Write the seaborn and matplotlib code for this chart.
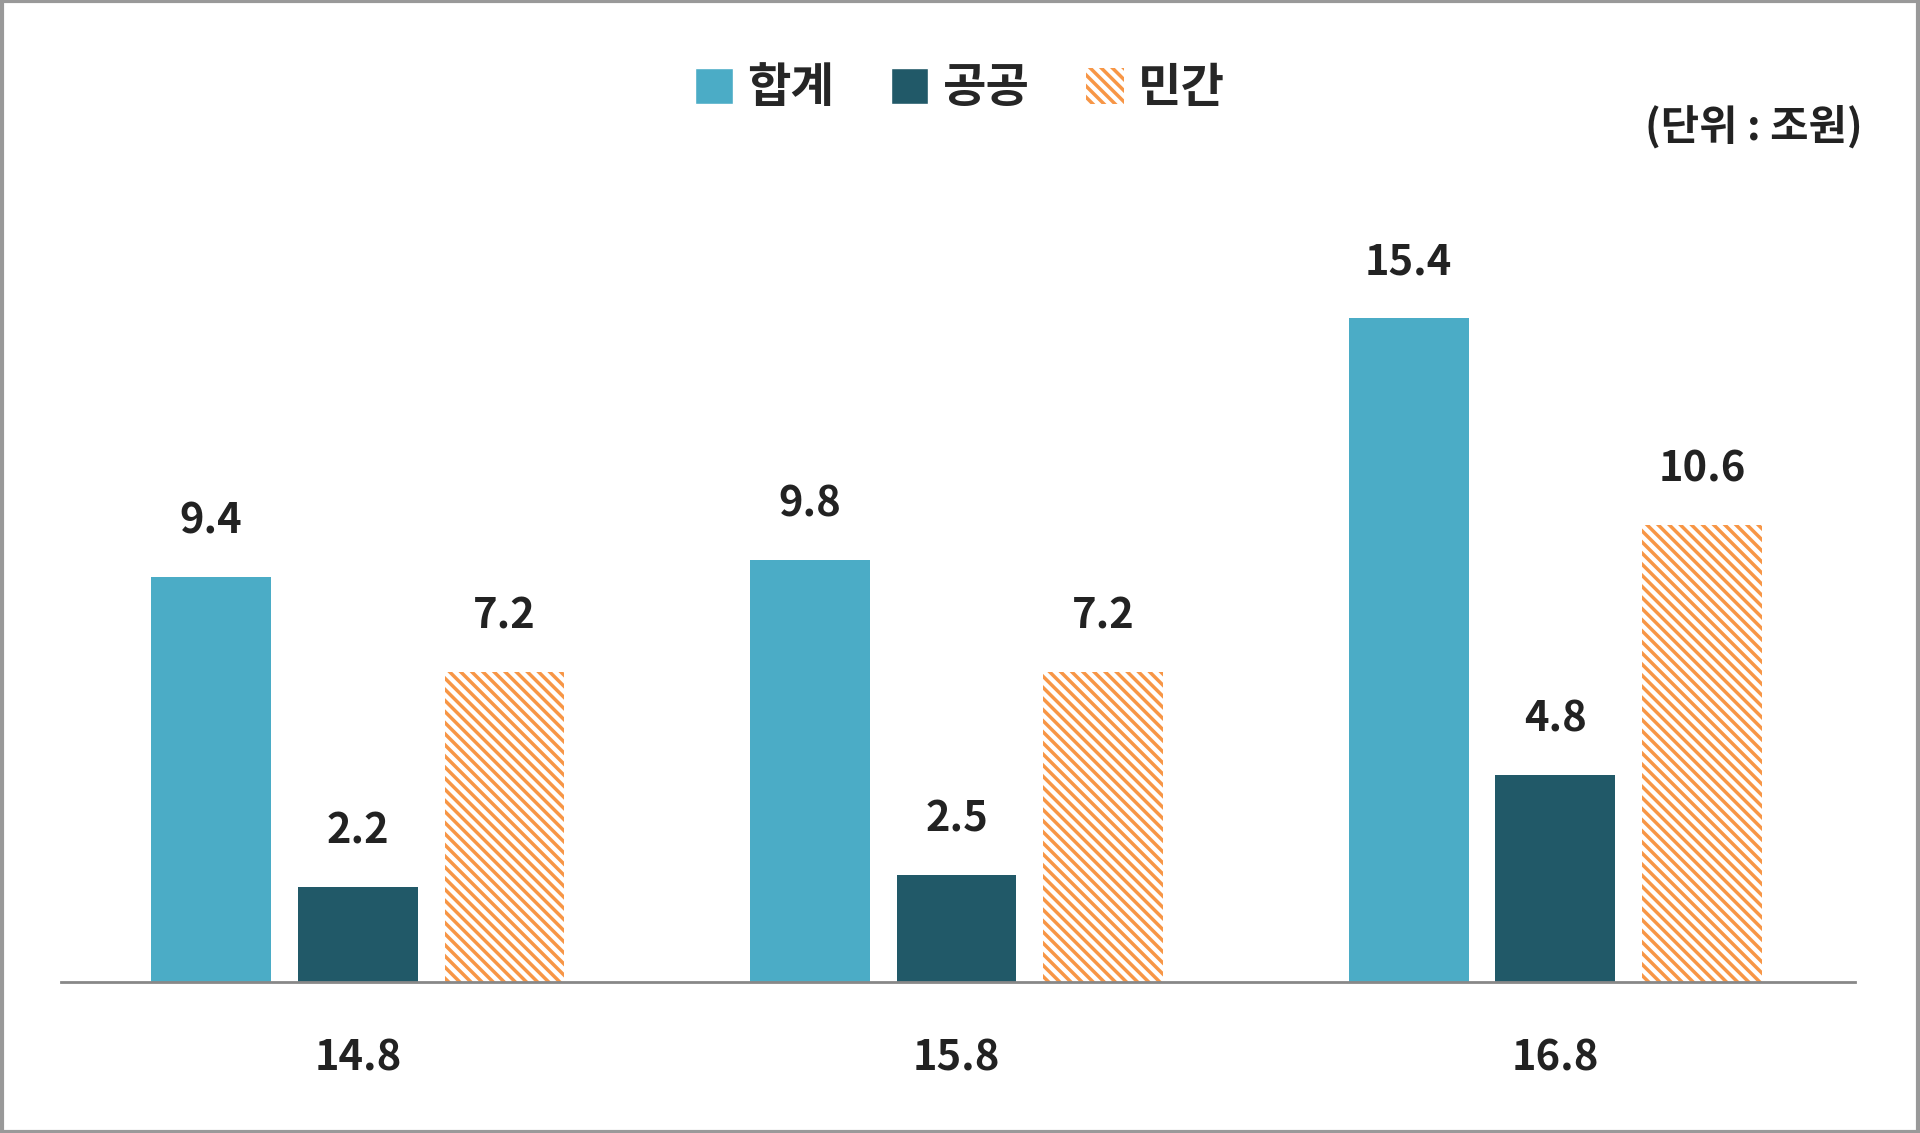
import matplotlib
matplotlib.use("Agg")
import matplotlib.pyplot as plt
import seaborn as sns
import pandas as pd
from matplotlib.patches import Patch, Rectangle

categories = ["14.8", "15.8", "16.8"]
series = ["합계", "공공", "민간"]
total = [9.4, 9.8, 15.4]
public = [2.2, 2.5, 4.8]
private = [7.2, 7.2, 10.6]

rows = []
for i, c in enumerate(categories):
    rows += [(c, "합계", total[i]), (c, "공공", public[i]), (c, "민간", private[i])]
df = pd.DataFrame(rows, columns=["cat", "series", "value"])

sns.set_style("white")
plt.rcParams['font.family'] = ['Noto Sans CJK KR', 'DejaVu Sans']
plt.rcParams['hatch.linewidth'] = 2.5
plt.rcParams['hatch.color'] = '#F79646'

colors = {"합계": "#4BACC6", "공공": "#215968", "민간": "white"}
fig = plt.figure(figsize=(19.2, 11.33), dpi=100)
ax = fig.add_axes([0.032, 0.133, 0.934, 0.685])
sns.barplot(data=df, x="cat", y="value", hue="series", hue_order=series,
            palette=colors, width=0.735, ax=ax, legend=False, saturation=1)

bw = 0.2
for bars, s in zip(ax.containers, series):
    for p, v in zip(bars, df[df.series == s].value):
        cx = p.get_x() + p.get_width() / 2
        p.set_x(cx - bw / 2)
        p.set_width(bw)
        p.set_linewidth(0)
        if s == "민간":
            p.set_hatch('\\\\\\')
            p.set_edgecolor('#F79646')
        ax.text(cx, v + 0.8, f"{v:.1f}", ha="center", va="bottom",
                fontsize=30, fontweight="bold", color="#222222")

ax.set_ylim(0, 18)
ax.set_xlim(-0.495, 2.5)
ax.set_yticks([])
ax.set_xlabel("")
ax.set_ylabel("")
for s in ["top", "left", "right"]:
    ax.spines[s].set_visible(False)
ax.spines["bottom"].set_color("#888888")
ax.spines["bottom"].set_linewidth(2)
ax.tick_params(axis="x", length=0, pad=40, labelsize=30)
for t in ax.get_xticklabels():
    t.set_fontweight("bold")
    t.set_color("#222222")

handles = [Patch(facecolor="#4BACC6"), Patch(facecolor="#215968"),
           Patch(facecolor="white", hatch='\\\\\\', edgecolor='#F79646', linewidth=0)]
fig.legend(handles, series, loc="center", bbox_to_anchor=(0.5, 0.922), ncol=3,
           frameon=False, prop={"size": 34, "weight": "bold"},
           handlelength=0.8, handleheight=0.8, handletextpad=0.3, columnspacing=1.2)
fig.text(0.97, 0.888, "(단위 : 조원)", ha="right", va="center", fontsize=30,
         fontweight="bold", color="#222222")
fig.add_artist(Rectangle((0.001, 0.001), 0.998, 0.998, transform=fig.transFigure,
                         fill=False, edgecolor="#999999", linewidth=3))
fig.savefig("out.png", dpi=100)
